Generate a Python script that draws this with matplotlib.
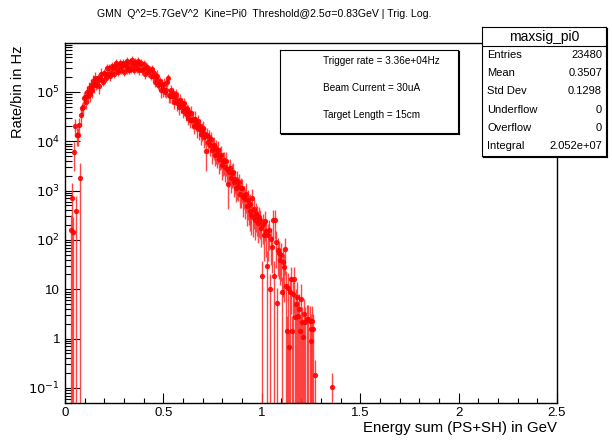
import numpy as np
import matplotlib
matplotlib.use('Agg')
import matplotlib.pyplot as plt
from matplotlib.ticker import FixedLocator, MultipleLocator, NullFormatter

plt.rcParams['font.family'] = ['Liberation Sans', 'DejaVu Sans']

# histogram: bins of 0.005 GeV, first centre at 0.0325 GeV
bin_width = 0.005
first_centre = 0.0325

# log10(rate per bin in Hz), rows of 20 bins (0.1 GeV); nan = empty bin
log_rate = [
    2.20, 2.85, 2.16, 3.79, 4.30, 2.58, 4.13, 4.13, 4.33, 3.26, 4.54, 4.67, 4.70, 4.88, 4.90, 4.80, 5.00, 4.92, 5.08, 4.95,
    5.14, 5.03, 5.22, 5.13, 5.28, 5.13, 5.21, 5.29, 5.12, 5.29, 5.37, 5.25, 5.21, 5.38, 5.36, 5.29, 5.48, 5.37, 5.48, 5.32,
    5.39, 5.53, 5.48, 5.37, 5.52, 5.58, 5.45, 5.41, 5.53, 5.59, 5.45, 5.52, 5.59, 5.41, 5.55, 5.58, 5.46, 5.63, 5.51, 5.45,
    5.60, 5.47, 5.64, 5.54, 5.45, 5.61, 5.56, 5.49, 5.63, 5.44, 5.56, 5.58, 5.44, 5.47, 5.56, 5.36, 5.49, 5.51, 5.40, 5.44,
    5.45, 5.33, 5.46, 5.32, 5.39, 5.20, 5.29, 5.33, 5.15, 5.17, 5.22, 5.03, 5.14, 5.05, 5.16, 4.99, 5.03, 5.20, 5.28, 4.94,
    4.92, 5.03, 4.91, 4.97, 4.80, 4.90, 4.95, 4.77, 4.82, 4.69, 4.84, 4.72, 4.77, 4.62, 4.77, 4.68, 4.56, 4.65, 4.48, 4.62,
    4.57, 4.43, 4.57, 4.43, 4.46, 4.31, 4.46, 4.37, 4.28, 4.41, 4.24, 4.31, 4.14, 4.23, 4.26, 4.08, 4.14, 3.80, 4.13, 3.99,
    4.08, 3.93, 4.05, 3.83, 3.91, 3.92, 3.72, 3.84, 3.75, 3.83, 3.64, 3.71, 3.73, 3.52, 3.60, 3.61, 3.47, 3.60, 3.44, 3.14,
    3.37, 3.46, 3.25, 3.36, 3.38, 3.17, 3.23, 3.06, 3.20, 3.09, 3.17, 2.94, 3.05, 3.05, 2.86, 2.92, 2.83, 2.94, 2.68, 2.81,
    2.70, 2.58, 2.72, 2.50, 2.85, 2.46, 2.62, 2.40, 2.55, 2.48, 2.34, 2.46, 2.41, 2.25, 1.27, 2.32, 2.10, 2.38, 2.18, 1.47,
    2.10, 2.20, 1.00, 2.02, 1.85, 2.41, 1.27, 2.41, 1.95, 0.73, 1.80, 1.74, 1.60, 1.70, 0.94, 1.55, 1.45, 1.81, 1.07, 0.16,
    1.03, -0.17, 0.95, 1.20, 0.16, 0.90, 1.20, 0.43, 0.70, 0.84, 0.46, 0.60, 0.16, 0.80, 0.33, 0.03, 0.50, 0.33, np.nan, 0.39,
    0.39, np.nan, 0.36, 0.20, -0.04, 0.36, 0.19, np.nan, -0.74, np.nan, np.nan, np.nan, np.nan, np.nan, np.nan, np.nan, np.nan, np.nan, np.nan, np.nan,
    np.nan, np.nan, np.nan, np.nan, np.nan, -0.99,
]

# relative error of each bin
rel_err = [
    1.0, 1.0, 1.0, 0.6, 0.4, 1.0, 0.4, 0.4, 0.4, 1.0, 0.4, 0.3, 0.3, 0.3, 0.3, 0.3, 0.3, 0.3, 0.3, 0.3,
    0.3, 0.3, 0.3, 0.3, 0.3, 0.2, 0.3, 0.2, 0.3, 0.2, 0.3, 0.2, 0.2, 0.2, 0.2, 0.2, 0.2, 0.2, 0.2, 0.2,
    0.2, 0.2, 0.2, 0.2, 0.2, 0.2, 0.2, 0.2, 0.2, 0.2, 0.2, 0.2, 0.2, 0.2, 0.2, 0.2, 0.2, 0.2, 0.2, 0.2,
    0.2, 0.2, 0.2, 0.2, 0.2, 0.2, 0.2, 0.2, 0.2, 0.2, 0.2, 0.2, 0.2, 0.2, 0.2, 0.2, 0.2, 0.2, 0.2, 0.2,
    0.2, 0.2, 0.2, 0.2, 0.2, 0.2, 0.2, 0.3, 0.2, 0.3, 0.2, 0.3, 0.3, 0.3, 0.3, 0.2, 0.3, 0.2, 0.2, 0.3,
    0.3, 0.3, 0.3, 0.3, 0.3, 0.3, 0.3, 0.3, 0.3, 0.3, 0.3, 0.3, 0.3, 0.3, 0.3, 0.3, 0.3, 0.3, 0.3, 0.3,
    0.3, 0.3, 0.4, 0.3, 0.4, 0.3, 0.4, 0.3, 0.4, 0.3, 0.4, 0.4, 0.4, 0.4, 0.4, 0.4, 0.4, 0.6, 0.4, 0.4,
    0.4, 0.4, 0.4, 0.5, 0.4, 0.5, 0.4, 0.5, 0.5, 0.5, 0.5, 0.5, 0.5, 0.5, 0.5, 0.5, 0.5, 0.5, 0.5, 0.7,
    0.5, 0.5, 0.5, 0.5, 0.5, 0.5, 0.5, 0.5, 0.6, 0.5, 0.5, 0.5, 0.6, 0.5, 0.6, 0.5, 0.6, 0.6, 0.6, 0.6,
    0.6, 0.6, 0.6, 0.6, 0.5, 0.6, 0.6, 0.6, 0.6, 0.6, 0.6, 0.6, 0.6, 0.6, 1.0, 0.6, 0.7, 0.6, 0.7, 1.0,
    0.7, 0.6, 1.0, 0.7, 0.7, 0.6, 1.0, 0.6, 0.7, 1.0, 0.7, 0.7, 0.7, 0.7, 1.0, 0.8, 0.8, 0.7, 1.0, 1.0,
    1.0, 1.0, 1.0, 0.8, 1.0, 1.0, 0.8, 1.0, 1.0, 1.0, 1.0, 1.0, 1.0, 1.0, 1.0, 1.0, 1.0, 1.0, 1.0, 1.0,
    1.0, 1.0, 1.0, 1.0, 1.0, 1.0, 1.0, 1.0, 1.0, 1.0, 1.0, 1.0, 1.0, 1.0, 1.0, 1.0, 1.0, 1.0, 1.0, 1.0,
    1.0, 1.0, 1.0, 1.0, 1.0, 1.0,
]

title = 'GMN  Q^2=5.7GeV^2  Kine=Pi0  Threshold@2.5\u03c3=0.83GeV | Trig. Log.'
stats_name = 'maxsig_pi0'
stats_labels = ['Entries', 'Mean', 'Std Dev', 'Underflow', 'Overflow', 'Integral']
stats_values = ['23480', '0.3507', '0.1298', '0', '0', '2.052e+07']
info_lines = ['Trigger rate = 3.36e+04Hz', 'Beam Current = 30uA', 'Target Length = 15cm']

lr = np.array(log_rate)
centres = first_centre + bin_width * np.arange(len(lr))
rate = 10 ** lr
err = rate * np.array(rel_err)
ok = ~np.isnan(lr)
x, y, e = centres[ok], rate[ok], err[ok]
lower = np.minimum(e, y - 1e-3)

fig = plt.figure(figsize=(6.12, 4.42), dpi=100)
ax = fig.add_axes([65/612, 1-403/442, 492/612, 360/442])

ax.errorbar(x, y, yerr=[lower, e], fmt='o', color='red', ms=3.8, mew=0,
            ecolor=(1, 0.2, 0.2), elinewidth=1.0, capsize=0, alpha=0.9)

ax.set_yscale('log')
ax.set_xlim(0, 2.5)
ax.set_ylim(0.0495, 9.8e5)

ax.set_xticks([0, 0.5, 1, 1.5, 2, 2.5])
ax.set_xticklabels(['0', '0.5', '1', '1.5', '2', '2.5'])
ax.xaxis.set_minor_locator(MultipleLocator(0.1))

dec = [0.1, 1, 10, 100, 1e3, 1e4, 1e5]
ax.yaxis.set_major_locator(FixedLocator(dec))
ax.set_yticklabels([r'$10^{-1}$', '1', '10', r'$10^{2}$', r'$10^{3}$', r'$10^{4}$', r'$10^{5}$'])
minors = [m * d for d in [0.01, 0.1, 1, 10, 100, 1e3, 1e4, 1e5] for m in range(2, 10)]
ax.yaxis.set_minor_locator(FixedLocator(minors))
ax.yaxis.set_minor_formatter(NullFormatter())

ax.tick_params(axis='both', which='both', direction='in', top=False, right=False,
               labelsize=9.5, width=0.8, color='black')
ax.tick_params(axis='x', which='major', length=7)
ax.tick_params(axis='x', which='minor', length=3.5)
ax.tick_params(axis='y', which='major', length=11)
ax.tick_params(axis='y', which='minor', length=5)
ax.tick_params(axis='x', pad=3)
for s in ax.spines.values():
    s.set_linewidth(1.0)

fig.text(264/612, 1-14/442, title, ha='center', va='center', fontsize=7.6)
fig.text(557/612, 1-428/442, 'Energy sum (PS+SH) in GeV', ha='right', va='center', fontsize=10.8)
fig.text(18/612, 1-45/442, 'Rate/bin in Hz', ha='center', va='top', rotation=90, fontsize=10.5)

# info box
def px_box(x0, y0, x1, y1):
    return fig.add_axes([x0/612, 1-y1/442, (x1-x0)/612, (y1-y0)/442])

shadow = px_box(281, 51, 459, 134)
shadow.set_facecolor('black')
shadow.set_xticks([]); shadow.set_yticks([])
info = px_box(280, 50, 458, 133)
info.set_xticks([]); info.set_yticks([])
for s in info.spines.values():
    s.set_linewidth(0.8)
for i, line in enumerate(info_lines):
    info.text(43/178, 1 - (11 + 27*i)/83, line, ha='left', va='center', fontsize=7.2,
              transform=info.transAxes)

# stats box
sh2 = px_box(483, 28, 607, 157)
sh2.set_facecolor('black')
sh2.set_xticks([]); sh2.set_yticks([])
st = px_box(482, 27, 606, 156)
st.set_xticks([]); st.set_yticks([])
st.set_xlim(0, 124); st.set_ylim(129, 0)
for s in st.spines.values():
    s.set_linewidth(0.8)
st.axhline(19, color='black', lw=0.8)
st.text(62, 9.5, stats_name, ha='center', va='center', fontsize=10)
for i, (lab, val) in enumerate(zip(stats_labels, stats_values)):
    yy = 28 + 18.2 * i
    st.text(5, yy, lab, ha='left', va='center', fontsize=8)
    st.text(120, yy, val, ha='right', va='center', fontsize=8)

fig.savefig('out.png', dpi=100)
